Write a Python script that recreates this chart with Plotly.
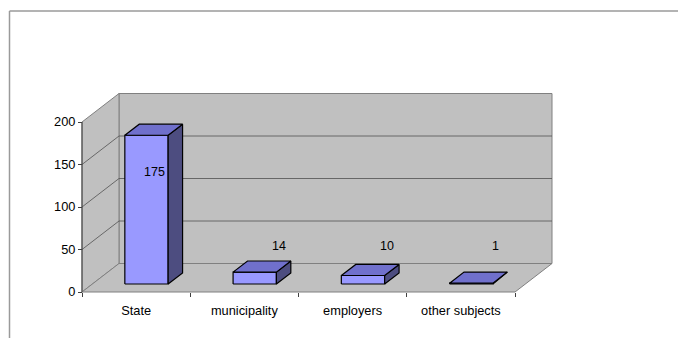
import plotly.graph_objects as go

categories = ["State", "municipality", "employers", "other subjects"]
values = [175, 14, 10, 1]
y_ticks = [0, 50, 100, 150, 200]

# ---- geometry / style (pixel-calibrated projection) ----
W, H = 678, 338
PX_X0, PX_X1 = 82, 515          # front x-axis pixel span
PX_Y0, PX_Y200 = 292, 122       # front y-axis pixel for 0 and 200
XPU = (PX_X1 - PX_X0) / len(categories)   # px per category
YPU = (PX_Y0 - PX_Y200) / 200.0           # px per value unit
DEPTH_DX = 37 / XPU             # full-depth offset in category units
DEPTH_DY = 28.5 / YPU           # full-depth offset in value units
BAR_D0, BAR_D1 = 0.28, 0.67
BAR_HALF = 0.2
VMAX = 200

x_lo = -0.5 - PX_X0 / XPU
x_hi = -0.5 + (W - PX_X0) / XPU
y_hi = PX_Y0 / YPU
y_lo = -(H - PX_Y0) / YPU

WALL = "#C0C0C0"
WALL_LINE = "#808080"
GRID = "#505050"
FRONT = "#9999FF"
TOP = "#7070CC"
SIDE = "#4D4D80"
FONT = "Liberation Sans, Arial, sans-serif"


def proj(c, v, d):
    return c + d * DEPTH_DX, v + d * DEPTH_DY


def poly(pts, fill, line, width=1):
    xs, ys = zip(*[proj(*p) for p in pts])
    xs = list(xs) + [xs[0]]
    ys = list(ys) + [ys[0]]
    return go.Scatter(x=xs, y=ys, mode="lines", fill="toself", fillcolor=fill,
                      line=dict(color=line, width=width), hoverinfo="skip",
                      showlegend=False)


def seg(pts, color, width=1):
    xs, ys = zip(*[proj(*p) for p in pts])
    return go.Scatter(x=list(xs), y=list(ys), mode="lines",
                      line=dict(color=color, width=width), hoverinfo="skip",
                      showlegend=False)


L, R = -0.5, len(categories) - 0.5
fig = go.Figure()

# back wall, left wall, floor
fig.add_trace(poly([(L, 0, 1), (R, 0, 1), (R, VMAX, 1), (L, VMAX, 1)], WALL, WALL_LINE))
fig.add_trace(poly([(L, 0, 0), (L, 0, 1), (L, VMAX, 1), (L, VMAX, 0)], WALL, WALL_LINE))
fig.add_trace(poly([(L, 0, 0), (R, 0, 0), (R, 0, 1), (L, 0, 1)], WALL, WALL_LINE))

# gridlines
for v in y_ticks[1:-1]:
    fig.add_trace(seg([(L, v, 0), (L, v, 1), (R, v, 1)], GRID, 0.8))
fig.add_trace(seg([(L, 0, 1), (R, 0, 1)], WALL_LINE, 1))

# y axis line
fig.add_trace(seg([(L, 0, 0), (L, VMAX, 0)], "#404040", 1))

# bars
for i, v in enumerate(values):
    a, b = i - BAR_HALF, i + BAR_HALF
    fig.add_trace(poly([(a, 0, BAR_D0), (b, 0, BAR_D0), (b, v, BAR_D0), (a, v, BAR_D0)], FRONT, "black", 1.2))
    fig.add_trace(poly([(b, 0, BAR_D0), (b, 0, BAR_D1), (b, v, BAR_D1), (b, v, BAR_D0)], SIDE, "black", 1.2))
    fig.add_trace(poly([(a, v, BAR_D0), (b, v, BAR_D0), (b, v, BAR_D1), (a, v, BAR_D1)], TOP, "black", 1.2))

# data labels
for i, v in enumerate(values):
    inside = v > 100
    lx = i + (0.17 if inside else 0.32)
    ly = 0.805 * v if inside else 54
    fig.add_annotation(x=lx, y=ly, xref="x", yref="y", text=str(v), showarrow=False,
                       font=dict(family=FONT, size=12.5, color="black"))

fig.update_layout(
    width=W, height=H,
    margin=dict(l=0, r=0, t=0, b=0),
    paper_bgcolor="white", plot_bgcolor="white",
    showlegend=False,
    xaxis=dict(range=[x_lo, x_hi], domain=[0, 1], anchor="free",
               position=(H - PX_Y0) / H,
               showgrid=False, zeroline=False, showline=False,
               tickmode="array", tickvals=list(range(len(categories))),
               ticktext=categories, ticks="", ticklabelstandoff=9,
               minor=dict(tickmode="array",
                          tickvals=[k - 0.5 for k in range(len(categories) + 1)],
                          ticks="outside", ticklen=4, tickcolor="#404040", showgrid=False),
               tickfont=dict(family=FONT, size=12.8, color="black"), fixedrange=True),
    yaxis=dict(range=[y_lo, y_hi], domain=[0, 1], anchor="free",
               position=PX_X0 / W,
               showgrid=False, zeroline=False, showline=False,
               tickmode="array", tickvals=y_ticks, ticks="outside", ticklen=4,
               tickcolor="#404040",
               tickfont=dict(family=FONT, size=12.8, color="black"), fixedrange=True),
    shapes=[
        dict(type="line", xref="paper", yref="paper", x0=9.5 / W, x1=1,
             y0=(H - 11) / H, y1=(H - 11) / H, line=dict(color="#9a9a9a", width=1.5)),
        dict(type="line", xref="paper", yref="paper", x0=9.5 / W, x1=9.5 / W,
             y0=0, y1=(H - 11) / H, line=dict(color="#9a9a9a", width=1.5)),
    ],
)

fig.write_html("out.html")
